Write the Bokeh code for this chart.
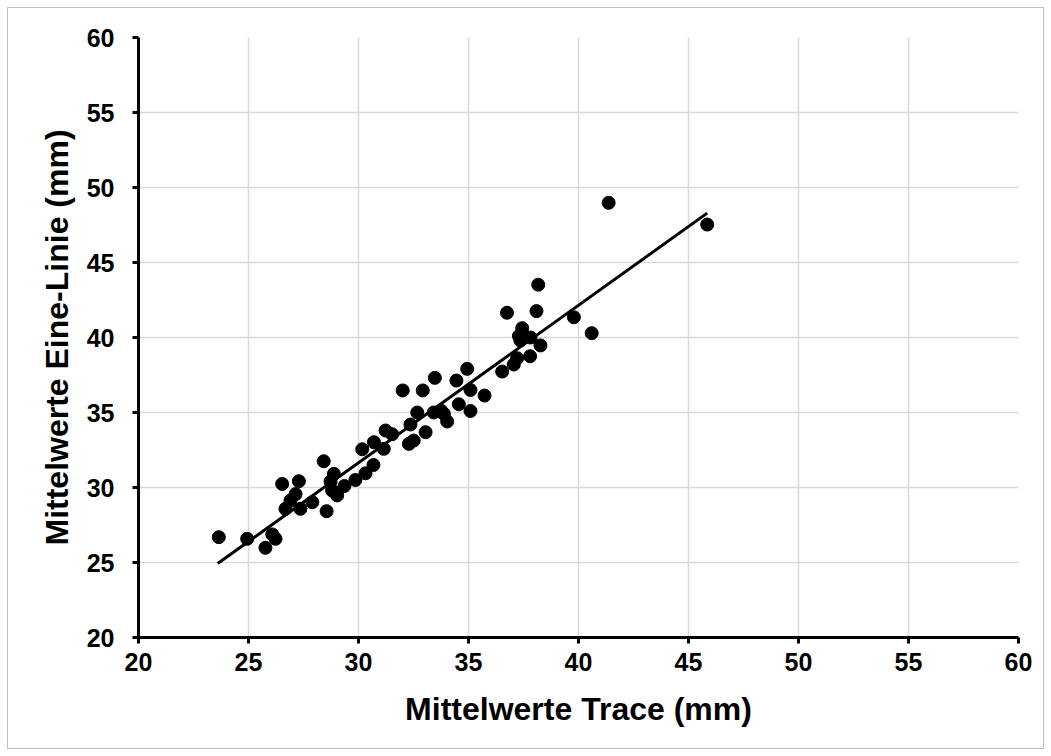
from bokeh.embed import file_html
from bokeh.models import ColumnDataSource, FixedTicker, Title
from bokeh.plotting import figure
from bokeh.resources import INLINE

# Paired means per subject (mm)
trace_mm = [
    23.65, 24.94, 25.77, 26.08, 26.23, 26.53, 26.68, 26.91, 27.14, 27.29,
    27.36, 27.90, 28.42, 28.55, 28.73, 28.80, 28.88, 29.03, 29.36, 29.86,
    30.17, 30.32, 30.68, 30.70, 31.15, 31.23, 31.53, 32.01, 32.29, 32.36,
    32.51, 32.67, 32.92, 33.05, 33.42, 33.47, 33.75, 33.88, 34.03, 34.45,
    34.56, 34.94, 35.09, 35.09, 35.73, 36.53, 36.75, 37.06, 37.21, 37.29,
    37.36, 37.44, 37.82, 37.80, 38.09, 38.17, 38.27, 39.79, 40.60, 41.37,
    45.85,
]
eine_linie_mm = [
    26.69, 26.58, 25.98, 26.87, 26.58, 30.24, 28.58, 29.13, 29.56, 30.42,
    28.58, 29.02, 31.75, 28.42, 30.40, 29.80, 30.91, 29.47, 30.10, 30.50,
    32.55, 30.95, 31.50, 33.02, 32.58, 33.80, 33.55, 36.47, 32.91, 34.20,
    33.13, 35.00, 36.47, 33.69, 35.00, 37.31, 35.13, 34.91, 34.40, 37.13,
    35.55, 37.91, 36.50, 35.10, 36.13, 37.73, 41.65, 38.20, 38.62, 40.10,
    39.80, 40.62, 40.00, 38.75, 41.76, 43.52, 39.47, 41.35, 40.29, 48.98,
    47.53,
]

# Linear trend line end points
trend_x = [23.60, 45.85]
trend_y = [24.93, 48.29]

axis_ticks = [20, 25, 30, 35, 40, 45, 50, 55, 60]

FONT = "Liberation Sans"

p = figure(
    width=1051,
    height=756,
    x_range=(20, 60),
    y_range=(20, 60),
    output_backend="svg",
    toolbar_location=None,
    min_border_left=138,
    min_border_right=33,
    min_border_top=37,
    min_border_bottom=119,
)
# Thin grey chart-area border, 7 px in from the page edge
p.styles = {
    "background-color": "white",
    "box-shadow": "inset 0 0 0 7px white, inset 0 0 0 8px #bfbfbf",
}
p.outline_line_color = None
p.background_fill_color = "white"
p.border_fill_color = None

# Grid
for g in (p.xgrid, p.ygrid):
    g.grid_line_color = "#d9d9d9"
    g.grid_line_width = 1.5

# Axes
for ax in (p.xaxis, p.yaxis):
    ax.ticker = FixedTicker(ticks=axis_ticks)
    ax.axis_line_color = "black"
    ax.axis_line_width = 3
    ax.major_tick_line_color = "black"
    ax.major_tick_line_width = 3
    ax.major_tick_out = 6
    ax.major_tick_in = 0
    ax.minor_tick_line_color = None
    ax.major_label_text_font = FONT
    ax.major_label_text_font_style = "bold"
    ax.major_label_text_font_size = "25px"
    ax.major_label_text_color = "black"

p.xaxis.major_label_standoff = 9
p.yaxis.major_label_standoff = 18

p.xaxis.axis_label = "Mittelwerte Trace (mm)"
p.xaxis.axis_label_text_font = FONT
p.xaxis.axis_label_text_font_style = "bold"
p.xaxis.axis_label_text_font_size = "32px"
p.xaxis.axis_label_text_color = "black"
p.xaxis.axis_label_standoff = 17

# Data points and trend line
src = ColumnDataSource(data=dict(x=trace_mm, y=eine_linie_mm))
p.line(trend_x, trend_y, line_color="black", line_width=3)
p.scatter("x", "y", source=src, size=13, fill_color="black", line_color="black")

# Vertical axis title, starting 92 px above the bottom of the frame
p.add_layout(Title(
    text="Mittelwerte Eine-Linie (mm)",
    align="left",
    offset=92,
    standoff=18,
    text_font=FONT, text_font_style="bold", text_font_size="32px",
    text_color="black",
), "left")

open("out.html", "w").write(file_html(p, INLINE))
